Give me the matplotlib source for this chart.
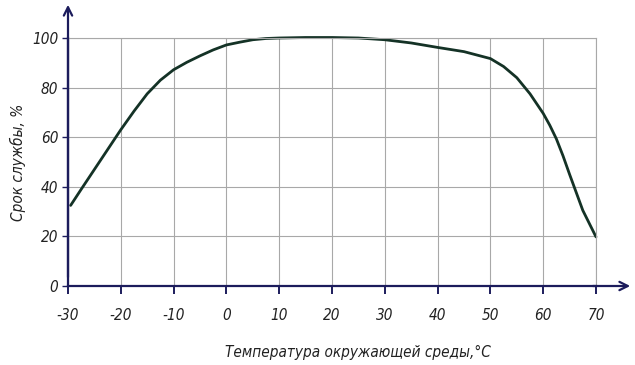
import matplotlib
matplotlib.use('Agg')
import matplotlib.pyplot as plt

# Service life vs ambient temperature
temps = [-29.5, -27.5, -25, -22.5, -20, -17.5, -15, -12.5, -10, -7.5, -5, -2.5, 0, 2.5, 5, 7.5,
         10, 15, 20, 25, 30, 35, 40, 45, 50, 52.5, 55, 57.5, 60, 61.25, 62.5, 63.75, 65, 67.5, 70]
life = [32.5, 39, 47, 55, 63, 70.5, 77.5, 83, 87.2, 90.2, 92.8, 95.2, 97.2, 98.3, 99.3, 99.8,
        100, 100.2, 100.2, 100, 99.3, 98, 96.2, 94.5, 91.7, 88.5, 84, 77.5, 69.6, 64.8, 59.3, 52.5, 45, 30.5, 19.8]
x_ticks = [-30, -20, -10, 0, 10, 20, 30, 40, 50, 60, 70]
y_ticks = [0, 20, 40, 60, 80, 100]

axis_col = '#1c1c5c'
grid_col = '#a8a8a8'
text_font = dict(family='DejaVu Sans', style='italic', stretch='condensed', color='#222222')

fig = plt.figure(figsize=(6.35, 3.65), dpi=100)
W, H = 635, 365
ax = fig.add_axes([68 / W, 1 - 286 / H, (596 - 68) / W, (286 - 38) / H])

ax.plot(temps, life, color='#143226', linewidth=2, solid_capstyle='round',
        solid_joinstyle='round', clip_on=False)

ax.set_xlim(-30, 70)
ax.set_ylim(0, 100)
ax.set_xticks(x_ticks)
ax.set_yticks(y_ticks)
ax.grid(True, color=grid_col, linewidth=0.8)
for s in ['top', 'right']:
    ax.spines[s].set_color(grid_col)
    ax.spines[s].set_linewidth(0.8)
for s in ['left', 'bottom']:
    ax.spines[s].set_color(axis_col)
    ax.spines[s].set_linewidth(1.6)
ax.tick_params(axis='x', direction='out', length=6, width=1.4, color=axis_col, pad=10)
ax.tick_params(axis='y', direction='out', length=4, width=1.0, color=axis_col, pad=3)
ax.set_xticklabels([str(t) for t in x_ticks], fontsize=11, **text_font)
ax.set_yticklabels([str(t) for t in y_ticks], fontsize=11, **text_font)

# axis arrows
fig.add_artist(matplotlib.patches.FancyArrowPatch(
    (68 / W, 1 - 280 / H), (68 / W, 1 - 2 / H), transform=fig.transFigure,
    arrowstyle='->,head_length=6,head_width=3', color=axis_col, linewidth=1.6))
fig.add_artist(matplotlib.patches.FancyArrowPatch(
    (590 / W, 1 - 286 / H), (633 / W, 1 - 286 / H), transform=fig.transFigure,
    arrowstyle='->,head_length=6,head_width=3', color=axis_col, linewidth=1.6))

fig.text(18 / W, 1 - 162 / H, 'Срок службы, %', rotation=90, ha='center', va='center',
         fontsize=11, **text_font)
fig.text(358 / W, 1 - 352 / H, 'Температура окружающей среды,°C', ha='center', va='center',
         fontsize=11, **text_font)

fig.savefig('out.png', dpi=100)
